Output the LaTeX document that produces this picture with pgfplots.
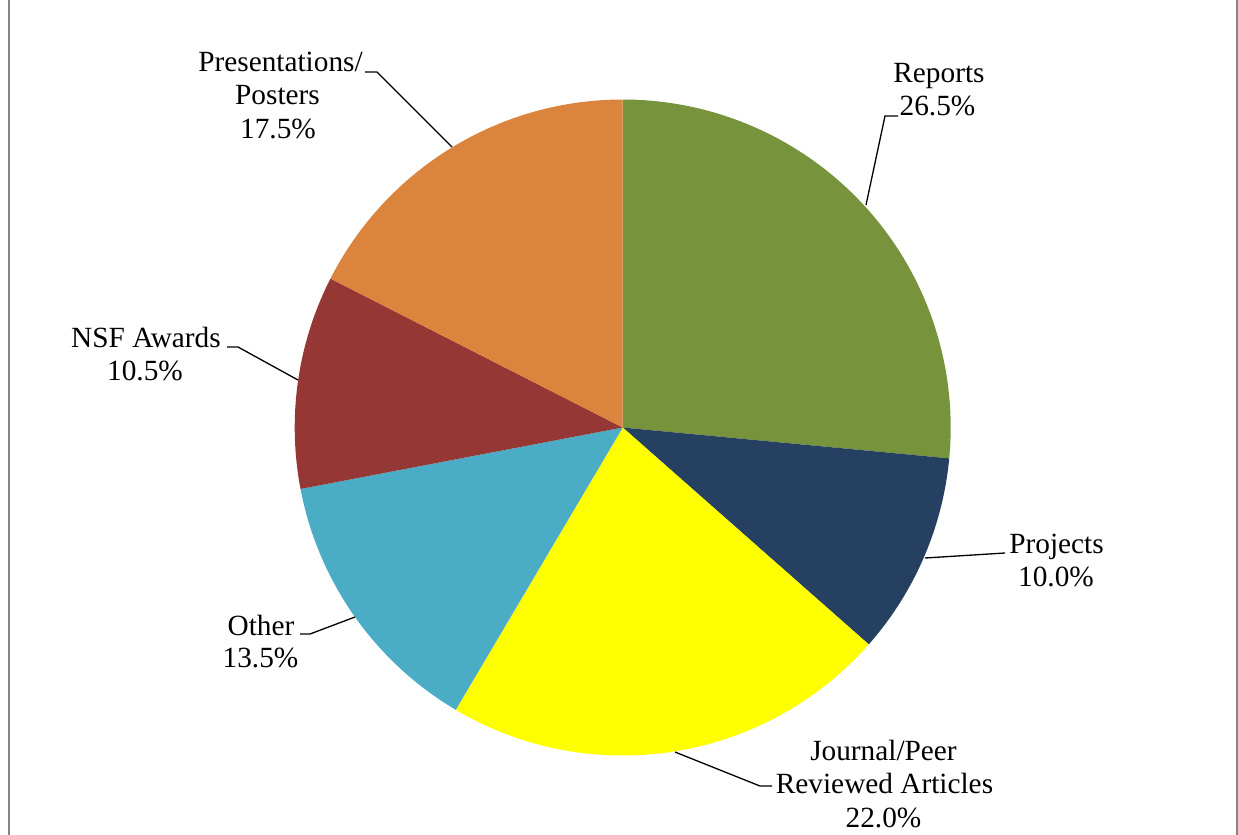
\documentclass[border=0pt]{standalone}
\usepackage{pgfplots}
\pgfplotsset{compat=1.18}
\usepackage{fontspec}
\setmainfont{Liberation Serif}

\definecolor{cRep}{RGB}{119,147,60}
\definecolor{cProj}{RGB}{37,64,97}
\definecolor{cJour}{RGB}{255,255,0}
\definecolor{cOth}{RGB}{75,172,198}
\definecolor{cNSF}{RGB}{149,55,53}
\definecolor{cPres}{RGB}{219,132,61}
\definecolor{frame}{RGB}{134,134,134}

\tikzset{lbl/.style={font=\fontsize{29.3bp}{33.5bp}\selectfont, anchor=base, inner sep=0pt}}

\begin{document}
\begin{tikzpicture}
\useasboundingbox (0,0) rectangle (1238bp,835bp);
\clip (0,0) rectangle (1238bp,835bp);
\begin{axis}[
  at={(0,0)}, anchor=south west,
  width=1238bp, height=835bp, scale only axis,
  xmin=0, xmax=1238, ymin=0, ymax=835,
  y dir=reverse,
  hide axis, clip=false,
]
% frame
\draw[frame, line width=2bp] (axis cs:9,0) -- (axis cs:9,835);
\draw[frame, line width=2bp] (axis cs:1236.5,0) -- (axis cs:1236.5,835);

% slices, clockwise from 12 o'clock (percent / colour)
\gdef\cum{90}
\foreach \v/\c in {26.5/cRep, 10.0/cProj, 22.0/cJour, 13.5/cOth, 10.5/cNSF, 17.5/cPres} {
  \pgfmathsetmacro\a{\cum}
  \pgfmathsetmacro\b{\cum-3.6*\v}
  \edef\tmp{\noexpand\fill[\c] (axis cs:622.7,427.5) -- ++(\a:328bp)
    arc[start angle=\a, end angle=\b, radius=328bp] -- cycle;}
  \tmp
  \xdef\cum{\b}
}

% leader lines
\draw[line width=1.3bp] (axis cs:866,205) -- (axis cs:885,116) -- (axis cs:898,116);
\draw[line width=1.3bp] (axis cs:925,558) -- (axis cs:1005,553);
\draw[line width=1.3bp] (axis cs:675,752) -- (axis cs:760,786) -- (axis cs:772,786);
\draw[line width=1.3bp] (axis cs:355,617) -- (axis cs:310,634) -- (axis cs:300,634);
\draw[line width=1.3bp] (axis cs:298,380) -- (axis cs:238,347) -- (axis cs:227,347);
\draw[line width=1.3bp] (axis cs:452,147) -- (axis cs:377,72) -- (axis cs:365,72);

% labels
\node[lbl] at (axis cs:939,83) {Reports};
\node[lbl] at (axis cs:937.5,116) {26.5\%};
\node[lbl] at (axis cs:1056.5,553) {Projects};
\node[lbl] at (axis cs:1056,586) {10.0\%};
\node[lbl] at (axis cs:883.5,760) {Journal/Peer};
\node[lbl] at (axis cs:884.5,793) {Reviewed Articles};
\node[lbl] at (axis cs:883.5,827) {22.0\%};
\node[lbl] at (axis cs:261,635) {Other};
\node[lbl] at (axis cs:260.5,667) {13.5\%};
\node[lbl] at (axis cs:146,347) {NSF Awards};
\node[lbl] at (axis cs:145,380) {10.5\%};
\node[lbl] at (axis cs:280.5,72) {Presentations/};
\node[lbl] at (axis cs:277.5,105) {Posters};
\node[lbl] at (axis cs:278,139) {17.5\%};
\end{axis}
\end{tikzpicture}
\end{document}
